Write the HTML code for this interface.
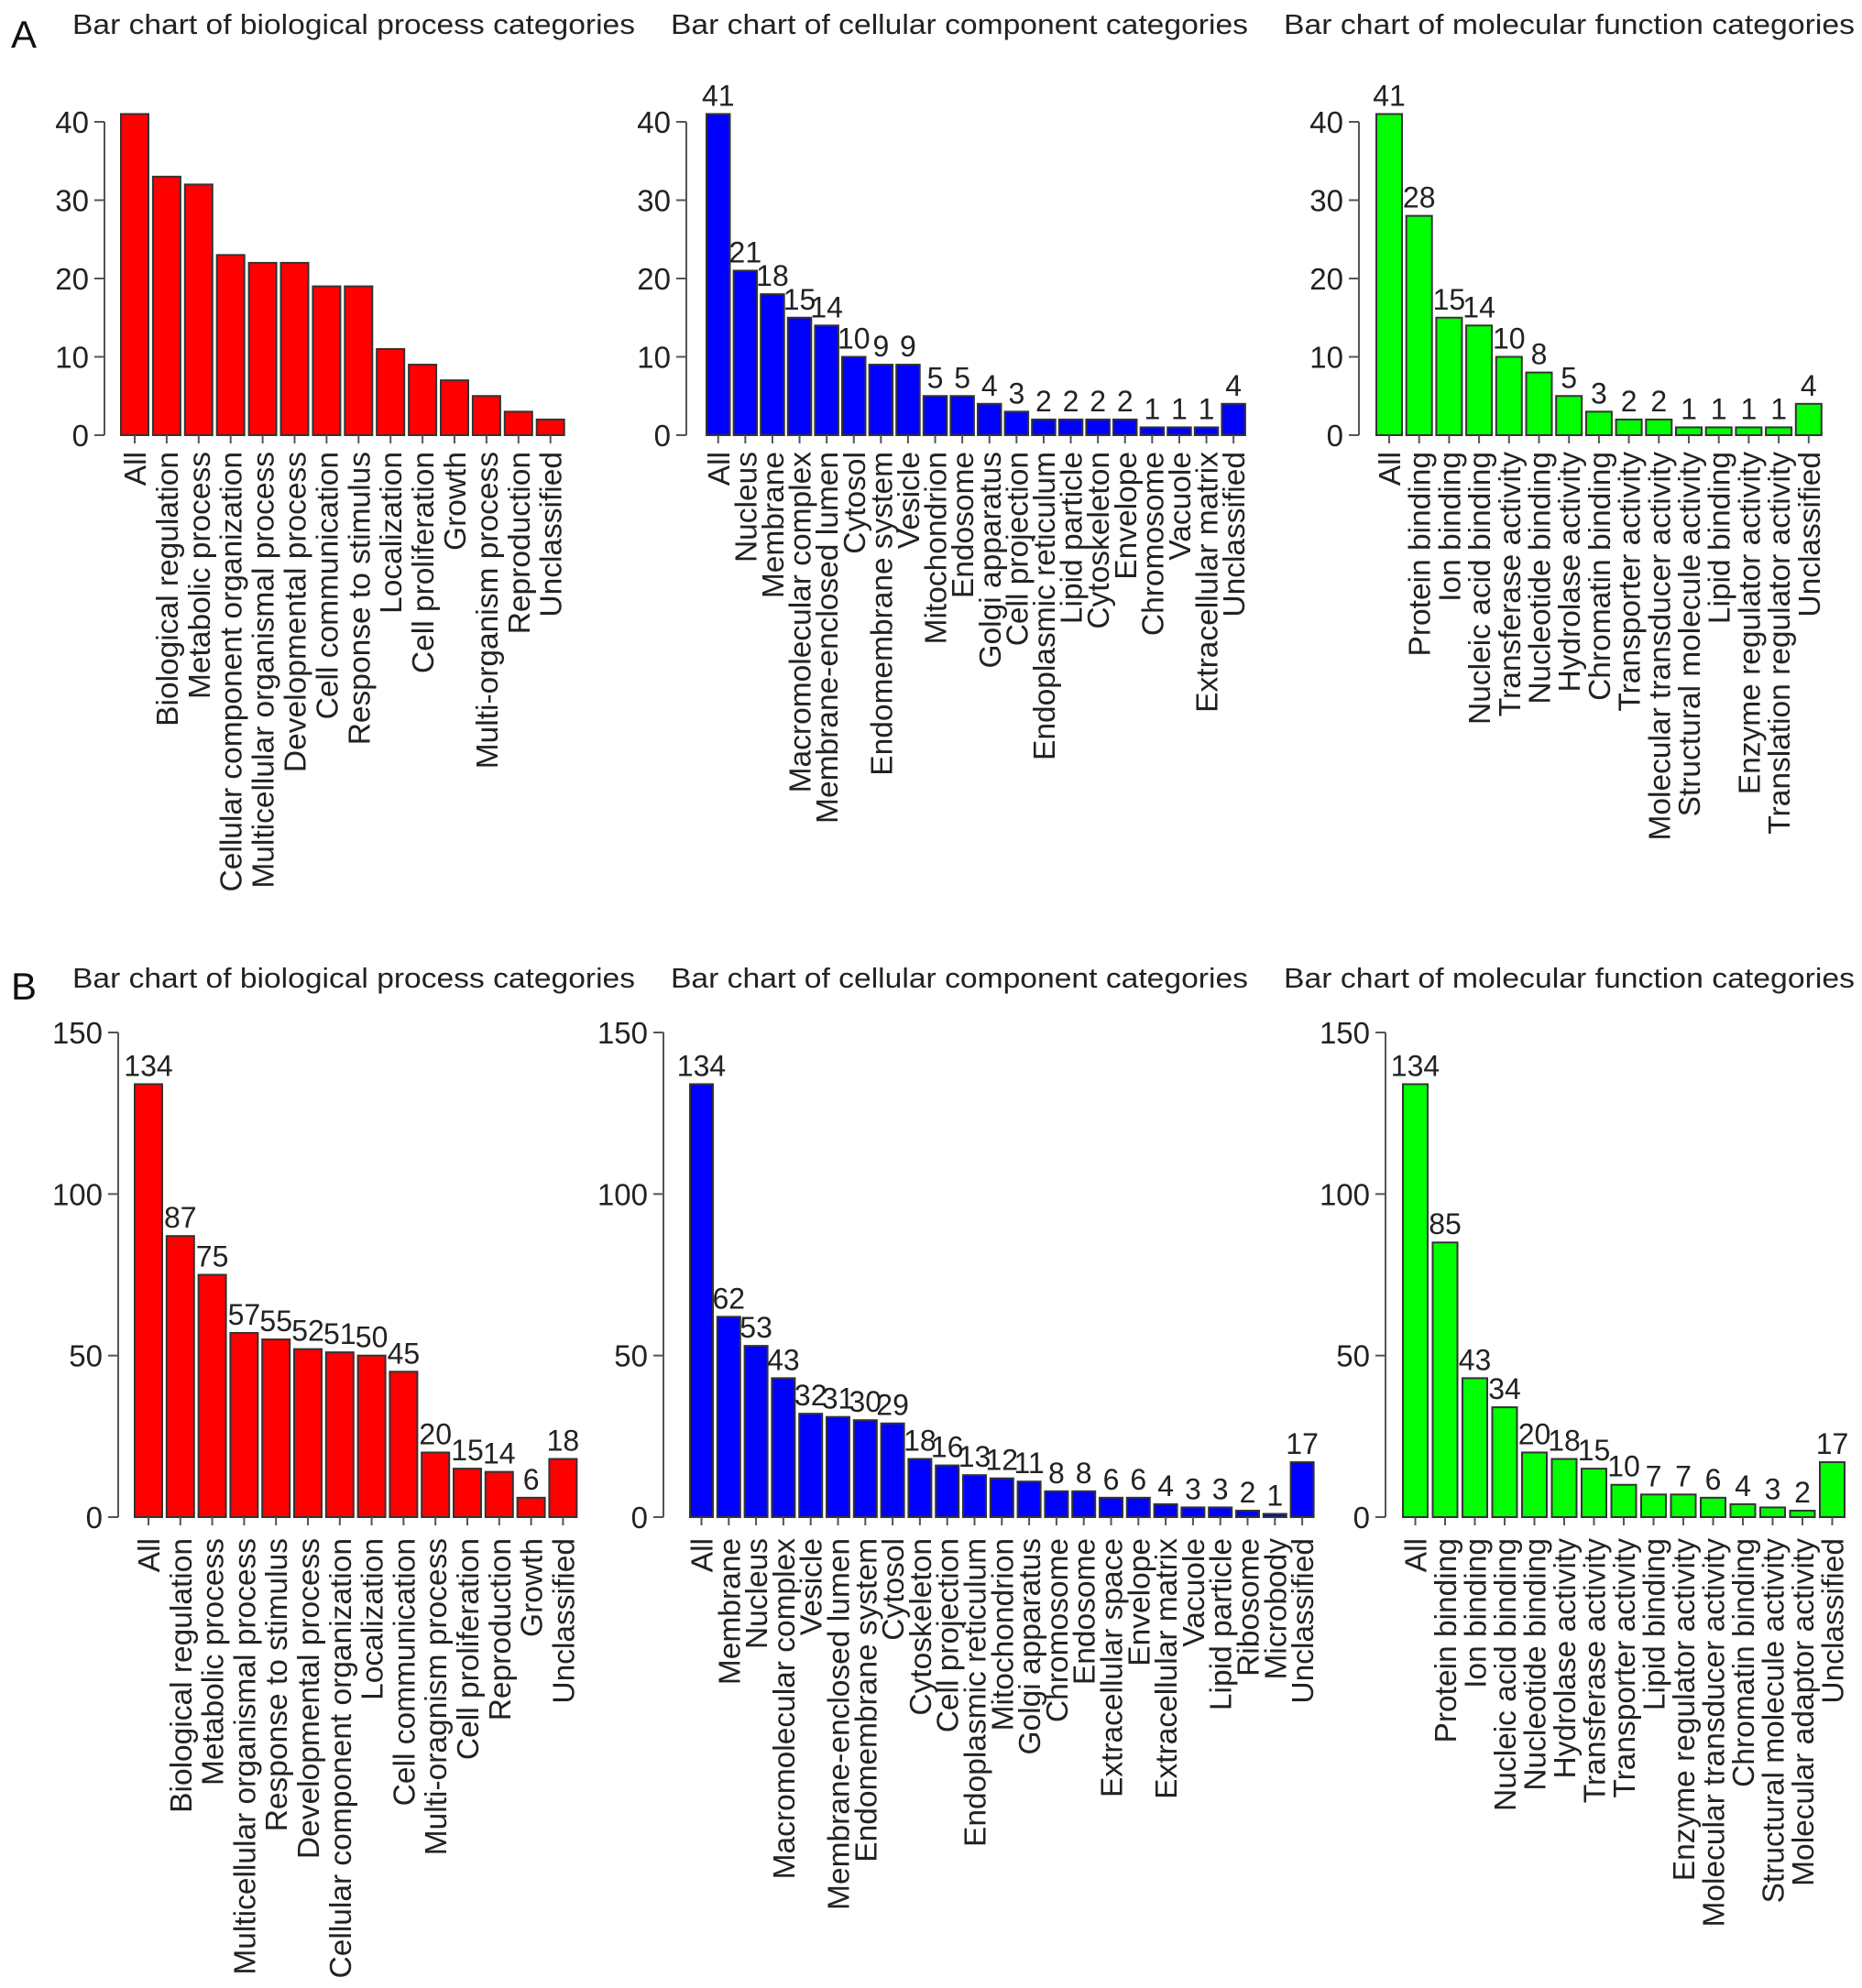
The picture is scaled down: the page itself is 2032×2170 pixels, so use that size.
<!DOCTYPE html>
<html><head><meta charset="utf-8"><style>
html,body{margin:0;padding:0;background:#fff;}
svg{display:block;font-family:"Liberation Sans",Arial,sans-serif;}
</style></head><body>
<svg id="fig" width="2032" height="2170" viewBox="0 0 2032 2170" xmlns="http://www.w3.org/2000/svg">
<text x="12" y="52" font-size="42" fill="#111">A</text>
<text x="12" y="1091" font-size="42" fill="#111">B</text>
</svg>
<script>
// ----- Panel A data -----
const aBpCategories = ["All","Biological regulation","Metabolic process","Cellular component organization","Multicellular organismal process","Developmental process","Cell communication","Response to stimulus","Localization","Cell proliferation","Growth","Multi-organism process","Reproduction","Unclassified"];
const aBpValues = [41,33,32,23,22,22,19,19,11,9,7,5,3,2];
const aCcCategories = ["All","Nucleus","Membrane","Macromolecular complex","Membrane-enclosed lumen","Cytosol","Endomembrane system","Vesicle","Mitochondrion","Endosome","Golgi apparatus","Cell projection","Endoplasmic reticulum","Lipid particle","Cytoskeleton","Envelope","Chromosome","Vacuole","Extracellular matrix","Unclassified"];
const aCcValues = [41,21,18,15,14,10,9,9,5,5,4,3,2,2,2,2,1,1,1,4];
const aMfCategories = ["All","Protein binding","Ion binding","Nucleic acid binding","Transferase activity","Nucleotide binding","Hydrolase activity","Chromatin binding","Transporter activity","Molecular transducer activity","Structural molecule activity","Lipid binding","Enzyme regulator activity","Translation regulator activity","Unclassified"];
const aMfValues = [41,28,15,14,10,8,5,3,2,2,1,1,1,1,4];
const aTicks = [0,10,20,30,40];
// ----- Panel B data -----
const bBpCategories = ["All","Biological regulation","Metabolic process","Multicellular organismal process","Response to stimulus","Developmental process","Cellular component organization","Localization","Cell communication","Multi-oragnism process","Cell proliferation","Reproduction","Growth","Unclassified"];
const bBpValues = [134,87,75,57,55,52,51,50,45,20,15,14,6,18];
const bCcCategories = ["All","Membrane","Nucleus","Macromolecular complex","Vesicle","Membrane-enclosed lumen","Endomembrane system","Cytosol","Cytoskeleton","Cell projection","Endoplasmic reticulum","Mitochondrion","Golgi apparatus","Chromosome","Endosome","Extracellular space","Envelope","Extracellular matrix","Vacuole","Lipid particle","Ribosome","Microbody","Unclassified"];
const bCcValues = [134,62,53,43,32,31,30,29,18,16,13,12,11,8,8,6,6,4,3,3,2,1,17];
const bMfCategories = ["All","Protein binding","Ion binding","Nucleic acid binding","Nucleotide binding","Hydrolase activity","Transferase activity","Transporter activity","Lipid binding","Enzyme regulator activity","Molecular transducer activity","Chromatin binding","Structural molecule activity","Molecular adaptor activity","Unclassified"];
const bMfValues = [134,85,43,34,20,18,15,10,7,7,6,4,3,2,17];
const bTicks = [0,50,100,150];

const NS = "http://www.w3.org/2000/svg";
const svg = document.getElementById("fig");
function mk(tag, attrs, parent){
  const e = document.createElementNS(NS, tag);
  for (const k in attrs) e.setAttribute(k, attrs[k]);
  (parent||svg).appendChild(e);
  return e;
}

function drawPanel(p){
  const g = mk("g", {});
  
  
  const t = mk("text", {x:p.titleX, y:p.titleY, "font-size":31, fill:"#222", textLength:p.titleW, lengthAdjust:"spacingAndGlyphs"}, g);
  t.textContent = p.title;
  
  
  const yScale = v => p.y0 - v * (p.y0 - p.yTop) / (p.ticks[p.ticks.length-1]);
  const xLeft = i => p.x0 + i * p.pitch;
  const ax = mk("line", {x1:p.axisX, x2:p.axisX, y1:yScale(p.ticks[0]), y2:yScale(p.ticks[p.ticks.length-1]), stroke:"#555", "stroke-width":2}, g);
  
  
  p.ticks.forEach(v => {
    const y = yScale(v);
    const tk = mk("line", {x1:p.axisX-11, x2:p.axisX, y1:y, y2:y, stroke:"#555", "stroke-width":2}, g);
    
    
    const tl = mk("text", {x:p.axisX-17, y:y+12, "font-size":33, "text-anchor":"end", fill:"#222"}, g);
    tl.textContent = v;
    
    
  });
  p.values.forEach((v, i) => {
    const x = xLeft(i), cx = x + p.bw/2, yt = yScale(v);
    const r = mk("rect", {x:x, y:yt, width:p.bw, height:p.y0-yt, fill:p.color, stroke:"#333", "stroke-width":2}, g);
    
    
    if (p.showValues){
      const vl = mk("text", {x:cx, y:yt-9, "font-size":32, "text-anchor":"middle", fill:"#222"}, g);
      vl.textContent = v;
      
      
    }
    const xt = mk("line", {x1:cx, x2:cx, y1:p.y0, y2:p.y0+9, stroke:"#555", "stroke-width":2}, g);
    
    
    const cl = mk("text", {x:0, y:0, "font-size":33.5, "text-anchor":"end", fill:"#222", transform:"translate(" + (cx+12) + "," + p.labelY + ") rotate(-90)"}, g);
    cl.textContent = p.cats[i];
    
    
  });
}

drawPanel({name:"panel-a-biological-process", title:"Bar chart of biological process categories", titleX:79, titleY:37, titleW:614,
  cats:aBpCategories, values:aBpValues, ticks:aTicks, y0:475, yTop:133, axisX:114, x0:132, pitch:34.9, bw:30, color:"#ff0000", showValues:false, labelY:493});
drawPanel({name:"panel-a-cellular-component", title:"Bar chart of cellular component categories", titleX:732, titleY:37, titleW:630,
  cats:aCcCategories, values:aCcValues, ticks:aTicks, y0:475, yTop:133, axisX:749, x0:771, pitch:29.6, bw:25.5, color:"#0000ff", showValues:true, labelY:493});
drawPanel({name:"panel-a-molecular-function", title:"Bar chart of molecular function categories", titleX:1401, titleY:37, titleW:623,
  cats:aMfCategories, values:aMfValues, ticks:aTicks, y0:475, yTop:133, axisX:1483, x0:1502, pitch:32.7, bw:28, color:"#00ff00", showValues:true, labelY:493});
drawPanel({name:"panel-b-biological-process", title:"Bar chart of biological process categories", titleX:79, titleY:1078, titleW:614,
  cats:bBpCategories, values:bBpValues, ticks:bTicks, y0:1656, yTop:1127, axisX:129, x0:147, pitch:34.8, bw:30, color:"#ff0000", showValues:true, labelY:1679});
drawPanel({name:"panel-b-cellular-component", title:"Bar chart of cellular component categories", titleX:732, titleY:1078, titleW:630,
  cats:bCcCategories, values:bCcValues, ticks:bTicks, y0:1656, yTop:1127, axisX:724, x0:753, pitch:29.8, bw:25, color:"#0000ff", showValues:true, labelY:1679});
drawPanel({name:"panel-b-molecular-function", title:"Bar chart of molecular function categories", titleX:1401, titleY:1078, titleW:623,
  cats:bMfCategories, values:bMfValues, ticks:bTicks, y0:1656, yTop:1127, axisX:1512, x0:1531, pitch:32.5, bw:27, color:"#00ff00", showValues:true, labelY:1679});
</script>
</body></html>
